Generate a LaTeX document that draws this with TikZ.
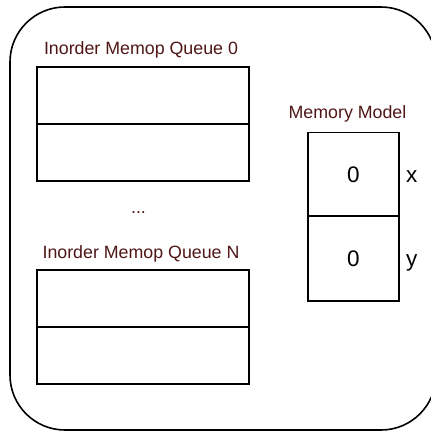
\documentclass[tikz,border=0pt]{standalone}
\usepackage{fontspec}
\setmainfont{Liberation Sans}
\definecolor{labelred}{HTML}{4F1616}
\begin{document}
\begin{tikzpicture}[x=1pt,y=-1pt,
  cell/.style={draw=black,line width=1.6pt,minimum width=#1,inner sep=0pt,outer sep=0pt},
  qcell/.style={cell=212pt,minimum height=57pt},
  mcell/.style={cell=91pt,minimum height=84pt,font=\fontsize{22.5}{26}\selectfont},
  title/.style={anchor=base,text=labelred,font=\fontsize{17.8}{20}\selectfont,inner sep=0pt},
  side/.style={anchor=base west,font=\fontsize{22.5}{26}\selectfont,inner sep=0pt}]
\clip (0,0) rectangle (431,431);
% outer frame, partly outside the page on the right and bottom
\draw[line width=1.6pt,rounded corners=55pt] (10,7) rectangle (436,430);

% queue 0
\node[title] (t0) at (141,54) {Inorder Memop Queue 0};
\node[qcell] (q0a) at (143,95.5) {};
\node[qcell] (q0b) at (143,152.5) {};

\node[title] (dots) at (138.5,213) {...};

% queue N
\node[title] (tN) at (141,258) {Inorder Memop Queue N};
\node[qcell] (qNa) at (143,298.5) {};
\node[qcell] (qNb) at (143,355.5) {};

% memory model
\node[title] (tm) at (347.5,118) {Memory Model};
\node[mcell] (mx) at (353.5,174.5) {0};
\node[mcell,minimum height=85pt] (my) at (353.5,258.5) {0};
\node[side] (lx) at (406,182) {x};
\node[side] (ly) at (406,266) {y};
\end{tikzpicture}
\end{document}
